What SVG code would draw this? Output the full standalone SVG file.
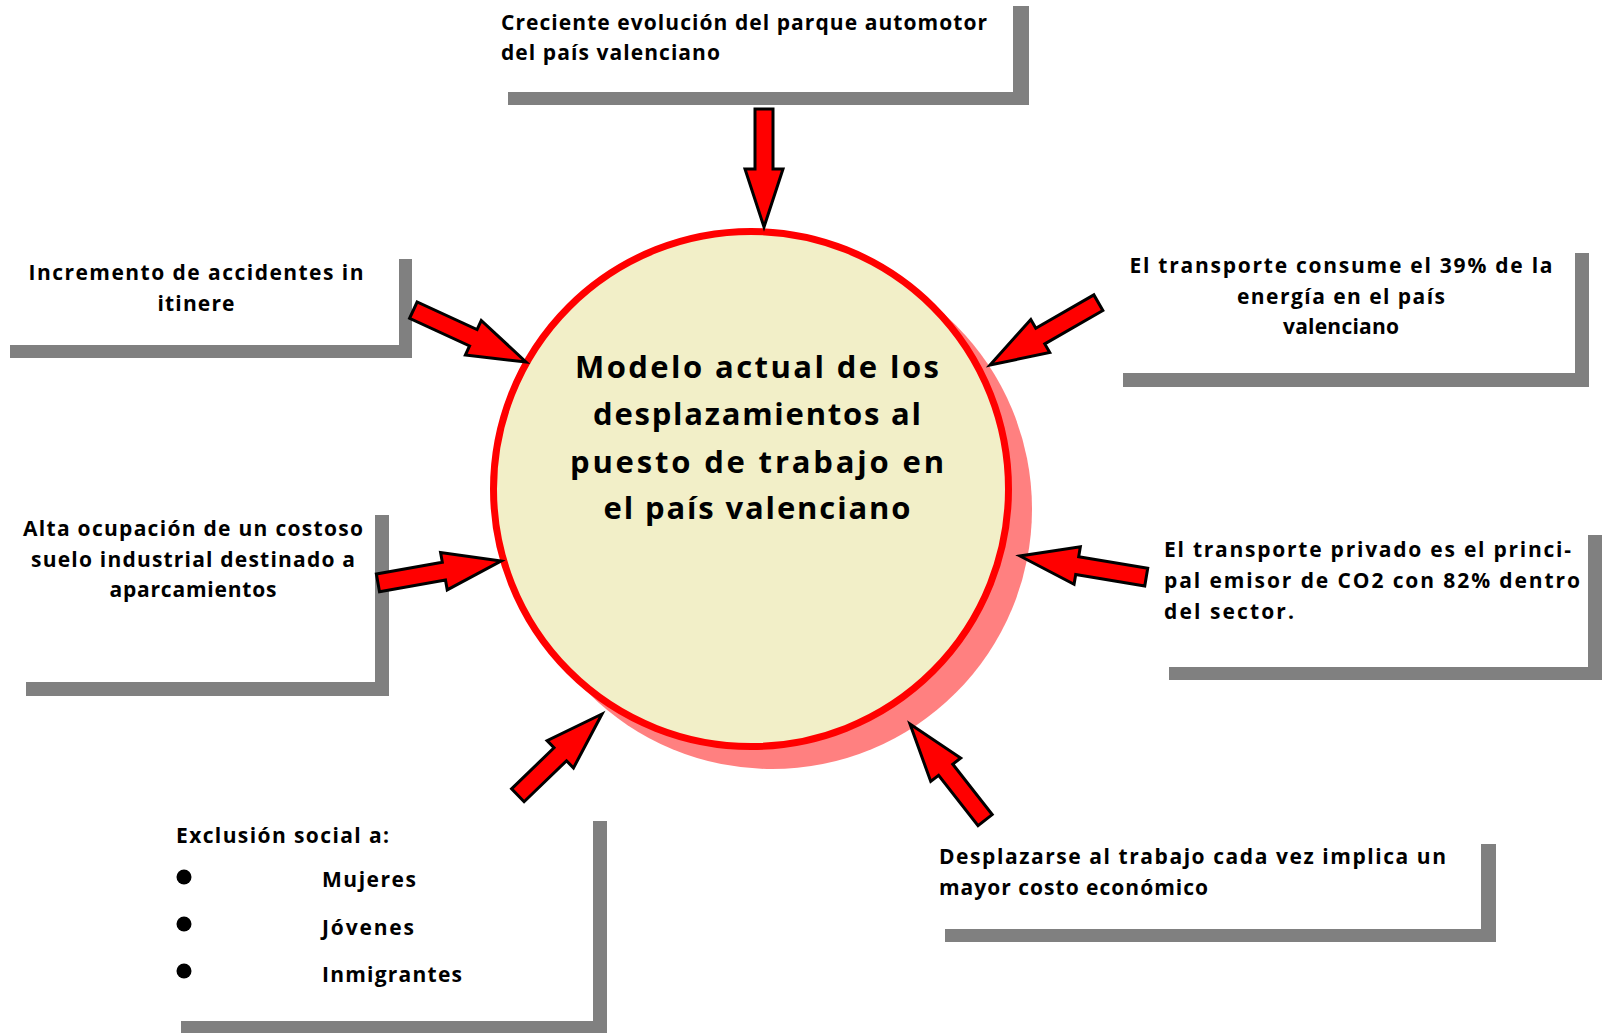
<svg xmlns="http://www.w3.org/2000/svg" width="1604" height="1035" viewBox="0 0 1604 1035">
<style>
.sh{fill:#808080}
.bx{fill:#ffffff}
.t{font-family:"Open Sans","Liberation Sans",sans-serif;font-weight:700;font-size:21px;fill:#000}
.c{font-family:"Open Sans","Liberation Sans",sans-serif;font-weight:700;font-size:31px;fill:#000}
.ar{fill:#ff0000;stroke:#000;stroke-width:3;stroke-linejoin:miter}
</style>
<rect width="1604" height="1035" fill="#fff"/>
<g id="box-top">
<rect class="sh" x="508" y="6" width="521" height="99"/>
<rect class="bx" x="492" y="-10" width="521" height="102"/>
<text class="t" x="501" y="30" textLength="486" lengthAdjust="spacing">Creciente evolución del parque automotor</text>
<text class="t" x="501" y="60" textLength="219" lengthAdjust="spacing">del país valenciano</text>
</g>
<g id="box-accidentes">
<rect class="sh" x="10" y="259" width="402" height="99"/>
<rect class="bx" x="-3" y="246" width="402" height="99"/>
<text class="t" x="196" y="280" text-anchor="middle" textLength="335" lengthAdjust="spacing">Incremento de accidentes in</text>
<text class="t" x="196" y="311" text-anchor="middle" textLength="77" lengthAdjust="spacing">itinere</text>
</g>
<g id="box-suelo">
<rect class="sh" x="26" y="515" width="363" height="181"/>
<rect class="bx" x="12" y="501" width="363" height="181"/>
<text class="t" x="193" y="536" text-anchor="middle" textLength="340" lengthAdjust="spacing">Alta ocupación de un costoso</text>
<text class="t" x="193" y="567" text-anchor="middle" textLength="324" lengthAdjust="spacing">suelo industrial destinado a</text>
<text class="t" x="193" y="597" text-anchor="middle" textLength="167" lengthAdjust="spacing">aparcamientos</text>
</g>
<g id="box-energia">
<rect class="sh" x="1123" y="253" width="466" height="134"/>
<rect class="bx" x="1109" y="239" width="466" height="134"/>
<text class="t" x="1341" y="273" text-anchor="middle" textLength="423" lengthAdjust="spacing">El transporte consume el 39% de la</text>
<text class="t" x="1341" y="304" text-anchor="middle" textLength="208" lengthAdjust="spacing">energía en el país</text>
<text class="t" x="1341" y="334" text-anchor="middle" textLength="116" lengthAdjust="spacing">valenciano</text>
</g>
<g id="box-co2">
<rect class="sh" x="1169" y="535" width="433" height="145"/>
<rect class="bx" x="1155" y="521" width="433" height="146"/>
<text class="t" x="1164" y="557" textLength="407" lengthAdjust="spacing">El transporte privado es el princi-</text>
<text class="t" x="1164" y="588" textLength="416" lengthAdjust="spacing">pal emisor de CO2 con 82% dentro</text>
<text class="t" x="1164" y="619" textLength="130" lengthAdjust="spacing">del sector.</text>
</g>
<g id="box-costo">
<rect class="sh" x="945" y="844" width="551" height="98"/>
<rect class="bx" x="931" y="830" width="550" height="99"/>
<text class="t" x="939" y="864" textLength="507" lengthAdjust="spacing">Desplazarse al trabajo cada vez implica un</text>
<text class="t" x="939" y="895" textLength="269" lengthAdjust="spacing">mayor costo económico</text>
</g>
<g id="box-exclusion">
<rect class="sh" x="181" y="821" width="426" height="212"/>
<rect class="bx" x="167" y="807" width="426" height="214"/>
<text class="t" x="176" y="843" textLength="213" lengthAdjust="spacing">Exclusión social a:</text>
<circle cx="184" cy="877" r="7.5" fill="#000"/>
<circle cx="184" cy="924" r="7.5" fill="#000"/>
<circle cx="184" cy="971" r="7.5" fill="#000"/>
<text class="t" x="322" y="887" textLength="94" lengthAdjust="spacing">Mujeres</text>
<text class="t" x="322" y="935" textLength="92" lengthAdjust="spacing">Jóvenes</text>
<text class="t" x="322" y="982" textLength="140" lengthAdjust="spacing">Inmigrantes</text>
</g>
<g id="center">
<circle cx="772" cy="509" r="260" fill="#ff8080"/>
<circle cx="751" cy="489" r="257.5" fill="#f2efc8" stroke="#ff0000" stroke-width="7"/>
<text class="c" x="757" y="378" text-anchor="middle" textLength="364" lengthAdjust="spacing">Modelo actual de los</text>
<text class="c" x="757" y="425" text-anchor="middle" textLength="328" lengthAdjust="spacing">desplazamientos al</text>
<text class="c" x="757" y="473" text-anchor="middle" textLength="374" lengthAdjust="spacing">puesto de trabajo en</text>
<text class="c" x="757" y="519" text-anchor="middle" textLength="307" lengthAdjust="spacing">el país valenciano</text>
</g>
<g id="connectors">
<polygon class="ar" transform="translate(764,227) rotate(90)" points="0,0 -58,-19 -58,-9 -118,-9 -118,9 -58,9 -58,19"/>
<polygon class="ar" transform="translate(526,362) rotate(24.7)" points="0,0 -58,-19 -58,-9 -124,-9 -124,9 -58,9 -58,19"/>
<polygon class="ar" transform="translate(501,561) rotate(-10.1)" points="0,0 -58,-19 -58,-9 -125,-9 -125,9 -58,9 -58,19"/>
<polygon class="ar" transform="translate(990,365) rotate(150.1)" points="0,0 -58,-19 -58,-9 -125,-9 -125,9 -58,9 -58,19"/>
<polygon class="ar" transform="translate(1020,556) rotate(189.5)" points="0,0 -58,-19 -58,-9 -128,-9 -128,9 -58,9 -58,19"/>
<polygon class="ar" transform="translate(910,724) rotate(232)" points="0,0 -58,-19 -58,-9 -122,-9 -122,9 -58,9 -58,19"/>
<polygon class="ar" transform="translate(602,714) rotate(-44)" points="0,0 -58,-19 -58,-9 -117,-9 -117,9 -58,9 -58,19"/>
</g>
</svg>
